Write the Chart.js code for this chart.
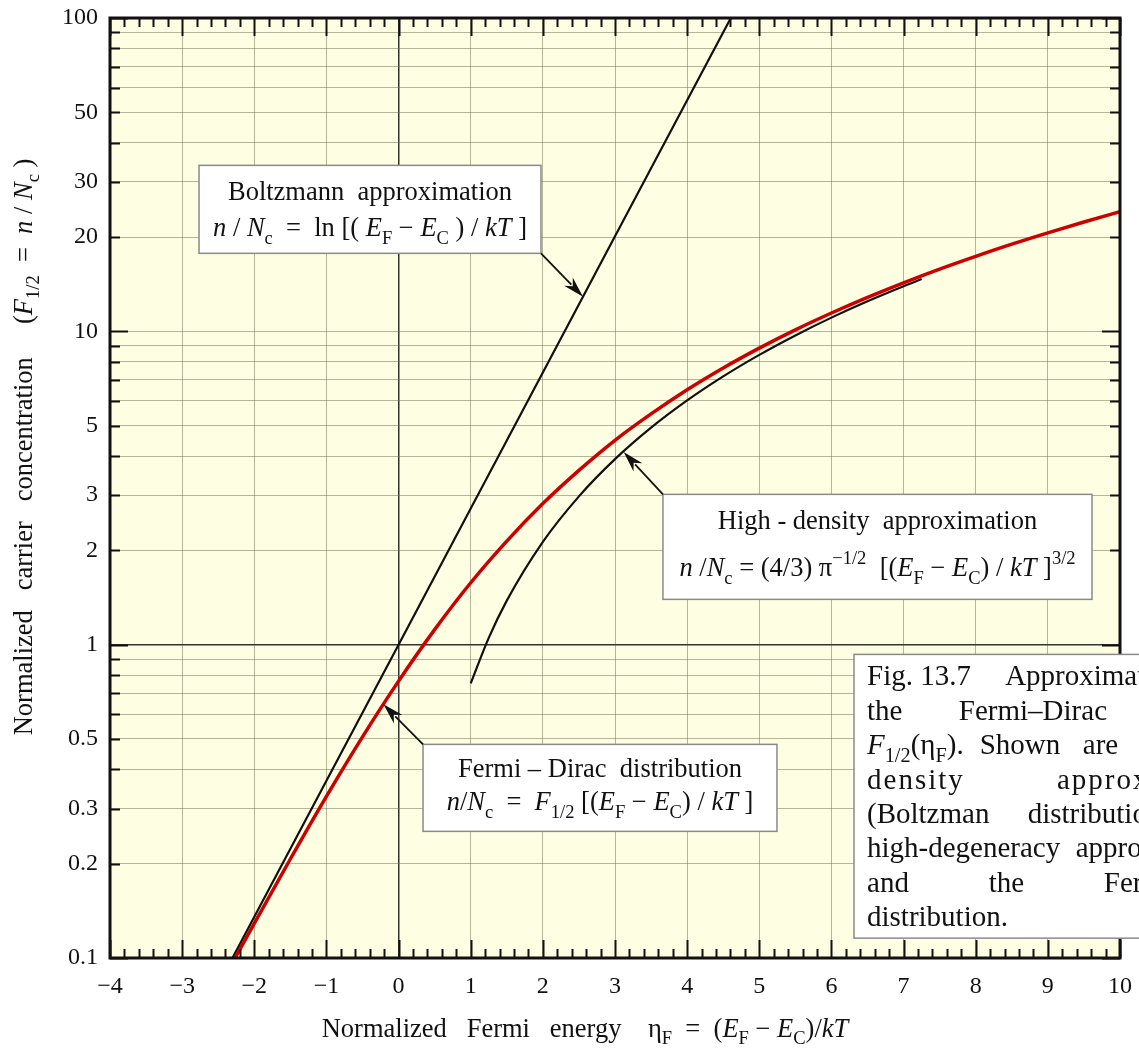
<!DOCTYPE html>
<html>
<head>
<meta charset="utf-8">
<script src="https://cdn.jsdelivr.net/npm/chart.js@4.4.1/dist/chart.umd.min.js"></script>
<style>
  body { margin: 0; background: #fff; }
  #wrap { width: 1139px; height: 1049px; position: relative; }
</style>
</head>
<body>
<div id="wrap"><canvas id="myChart"></canvas></div>
<script>
// values
const etaBoltz = [-2.4, -1, 0, 1, 2, 3, 4, 4.7];
const nBoltz = [0.0907, 0.368, 1, 2.72, 7.39, 20.1, 54.6, 109.9];

const etaFD = [-2.4, -2, -1.5, -1, -0.5, 0, 0.5, 1, 1.5, 2, 2.5, 3, 3.5, 4, 4.5, 5, 5.5, 6, 6.5, 7, 7.5, 8, 8.5, 9, 9.5, 10];
const nFD = [0.0879, 0.129, 0.207, 0.328, 0.508, 0.765, 1.117, 1.576, 2.14, 2.82, 3.60, 4.49, 5.45, 6.51, 7.64, 8.84, 10.11, 11.44, 12.84, 14.29, 15.8, 17.35, 18.97, 20.62, 22.33, 24.09];

const etaHD = [1, 1.25, 1.5, 2, 2.5, 3, 3.5, 4, 4.5, 5, 5.5, 6, 6.5, 7, 7.25];
const nHD = [0.752, 1.051, 1.382, 2.128, 2.974, 3.909, 4.926, 6.018, 7.181, 8.411, 9.704, 11.06, 12.47, 13.93, 14.68];

const xTickVals = [-4, -3, -2, -1, 0, 1, 2, 3, 4, 5, 6, 7, 8, 9, 10];
const yTickVals = [0.1, 0.2, 0.3, 0.4, 0.5, 0.6, 0.7, 0.8, 0.9, 1, 2, 3, 4, 5, 6, 7, 8, 9, 10, 20, 30, 40, 50, 60, 70, 80, 90, 100];
const yLabelVals = [0.1, 0.2, 0.3, 0.5, 1, 2, 3, 5, 10, 20, 30, 50, 100];

const FAM = '"Liberation Serif", "Times New Roman", serif';

function pts(xs, ys) {
    return xs.map((x, i) => ({ x: x, y: ys[i] }));
}

// rich text: parts are [text, kind] with kind = "i", "sub", "sup" or nothing
function layoutRich(ctx, parts, size) {
    let segs = parts.map((p) => {
        let kind = p[1];
        let small = kind == "sub" || kind == "sup";
        let fs = small ? size * 0.7 : size;
        let font = (kind == "i" ? "italic " : "") + fs + "px " + FAM;
        ctx.font = font;
        let dy = kind == "sub" ? size * 0.28 : kind == "sup" ? -size * 0.45 : 0;
        return { t: p[0], font: font, w: ctx.measureText(p[0]).width, dy: dy };
    });
    let total = segs.reduce((a, s) => a + s.w, 0);
    return { segs: segs, w: total };
}

function drawRich(ctx, parts, x, y, size, align) {
    let lay = layoutRich(ctx, parts, size);
    let cx = align == "center" ? x - lay.w / 2 : x;
    ctx.textAlign = "left";
    ctx.textBaseline = "alphabetic";
    lay.segs.forEach((s) => {
        ctx.font = s.font;
        ctx.fillText(s.t, cx, y + s.dy);
        cx += s.w;
    });
}

function drawJustified(ctx, text, x, y, width, justify) {
    let words = text.split(" ");
    if (!justify || words.length < 2) {
        ctx.fillText(text, x, y);
        return;
    }
    let ws = words.map((w) => ctx.measureText(w).width);
    let sum = ws.reduce((a, b) => a + b, 0);
    let gap = (width - sum) / (words.length - 1);
    let cx = x;
    words.forEach((w, i) => {
        ctx.fillText(w, cx, y);
        cx += ws[i] + gap;
    });
}

function arrow(ctx, x1, y1, x2, y2) {
    // line from (x1,y1) to tip (x2,y2)
    let ang = Math.atan2(y2 - y1, x2 - x1);
    let len = 21, half = 6;
    let c = Math.cos(ang), s = Math.sin(ang);
    ctx.strokeStyle = "#111";
    ctx.lineWidth = 1.8;
    ctx.beginPath();
    ctx.moveTo(x1, y1);
    ctx.lineTo(x2 - c * len * 0.8, y2 - s * len * 0.8);
    ctx.stroke();
    ctx.fillStyle = "#111";
    ctx.beginPath();
    ctx.moveTo(x2, y2);
    ctx.lineTo(x2 - c * len - s * half, y2 - s * len + c * half);
    ctx.lineTo(x2 - c * len * 0.7, y2 - s * len * 0.7);
    ctx.lineTo(x2 - c * len + s * half, y2 - s * len - c * half);
    ctx.closePath();
    ctx.fill();
}

function box(ctx, x1, y1, x2, y2) {
    ctx.fillStyle = "#fff";
    ctx.fillRect(x1, y1, x2 - x1, y2 - y1);
    ctx.strokeStyle = "#8a8a8a";
    ctx.lineWidth = 1.5;
    ctx.strokeRect(x1, y1, x2 - x1, y2 - y1);
}

const decor = {
    id: "decor",
    beforeDraw(chart) {
        let ctx = chart.ctx, a = chart.chartArea;
        ctx.save();
        ctx.fillStyle = "#fff";
        ctx.fillRect(0, 0, chart.width, chart.height);
        ctx.fillStyle = "#fefee3";
        ctx.fillRect(a.left, a.top, a.right - a.left, a.bottom - a.top);
        ctx.restore();
    },
    afterDraw(chart) {
        let ctx = chart.ctx, a = chart.chartArea;
        let xs = chart.scales.x, ys = chart.scales.y;
        let X = (v) => xs.getPixelForValue(v);
        let Y = (v) => ys.getPixelForValue(v);
        ctx.save();

        // inward ticks
        ctx.strokeStyle = "#111";
        ctx.lineWidth = 2;
        ctx.beginPath();
        for (let k = 0; k <= 70; k++) {
            let v = -4 + k * 0.2;
            let px = Math.round(X(v)) + 0.5;
            let L = k % 5 == 0 ? 18 : 9;
            ctx.moveTo(px, a.bottom);
            ctx.lineTo(px, a.bottom - L);
            ctx.moveTo(px, a.top);
            ctx.lineTo(px, a.top + L);
        }
        yTickVals.forEach((v) => {
            let py = Math.round(Y(v)) + 0.5;
            let dec = Math.abs(Math.log10(v) - Math.round(Math.log10(v))) < 1e-6;
            let L = dec ? 18 : 10;
            ctx.moveTo(a.left, py);
            ctx.lineTo(a.left + L, py);
            ctx.moveTo(a.right, py);
            ctx.lineTo(a.right - L, py);
        });
        ctx.stroke();

        // frame
        ctx.lineWidth = 3;
        ctx.strokeStyle = "#111";
        ctx.strokeRect(a.left, a.top, a.right - a.left, a.bottom - a.top);

        const NS = 26.5;

        // Boltzmann note
        box(ctx, X(-2.766), Y(33.86), X(1.974), Y(17.74));
        ctx.fillStyle = "#111";
        let bcx = (X(-2.766) + X(1.974)) / 2;
        drawRich(ctx, [["Boltzmann  approximation"]], bcx, Y(33.86) + 35, NS, "center");
        drawRich(ctx, [["n", "i"], [" / "], ["N", "i"], ["c", "sub"], ["  =  ln [( "], ["E", "i"], ["F", "sub"], [" \u2212 "], ["E", "i"], ["C", "sub"], [" ) / "], ["kT", "i"], [" ]"]], bcx, Y(33.86) + 71, NS, "center");
        arrow(ctx, X(1.974), Y(17.74), X(2.557), Y(12.9));

        // high-density note
        box(ctx, X(3.665), Y(3.018), X(9.612), Y(1.395));
        ctx.fillStyle = "#111";
        let hcx = (X(3.665) + X(9.612)) / 2;
        drawRich(ctx, [["High - density  approximation"]], hcx, Y(3.018) + 35, NS, "center");
        drawRich(ctx, [["n", "i"], [" /"], ["N", "i"], ["c", "sub"], [" = (4/3) \u03c0"], ["\u22121/2", "sup"], ["  [("], ["E", "i"], ["F", "sub"], [" \u2212 "], ["E", "i"], ["C", "sub"], [") / "], ["kT", "i"], [" ]"], ["3/2", "sup"]], hcx, Y(3.018) + 82, NS, "center");
        arrow(ctx, X(3.665), Y(3.018), X(3.12), Y(4.12));

        // Fermi-Dirac note
        box(ctx, X(0.339), Y(0.4806), X(5.245), Y(0.2536));
        ctx.fillStyle = "#111";
        let fcx = (X(0.339) + X(5.245)) / 2;
        drawRich(ctx, [["Fermi \u2013 Dirac  distribution"]], fcx, Y(0.4806) + 33, NS, "center");
        drawRich(ctx, [["n", "i"], ["/"], ["N", "i"], ["c", "sub"], ["  =  "], ["F", "i"], ["1/2", "sub"], [" [("], ["E", "i"], ["F", "sub"], [" \u2212 "], ["E", "i"], ["C", "sub"], [") / "], ["kT", "i"], [" ]"]], fcx, Y(0.4806) + 66, NS, "center");
        arrow(ctx, X(0.339), Y(0.4806), X(-0.21), Y(0.645));

        // figure caption (runs past the right edge)
        let cl = X(6.313), ct = Y(0.931), cb = Y(0.1157);
        box(ctx, cl, ct, chart.width + 40, cb);
        ctx.fillStyle = "#111";
        const CS = 29;
        ctx.textAlign = "left";
        ctx.textBaseline = "alphabetic";
        let capLines = [
            "Fig.\u00a013.7 Approximations of",
            "the Fermi\u2013Dirac integral",
            null,
            "density approximation",
            "(Boltzman distribution), the",
            "high-degeneracy approximation,",
            "and the Fermi\u2013Dirac",
            "distribution.",
        ];
        let capW = 385;
        capLines.forEach((t, i) => {
            let by = ct + 31 + i * 34.4;
            if (t === null) {
                let head = [["F", "i"], ["1/2", "sub"], ["(\u03b7"], ["F", "sub"], [")."]];
                let lay = layoutRich(ctx, head, CS);
                drawRich(ctx, head, cl + 13, by, CS, "left");
                ctx.font = CS + "px " + FAM;
                drawJustified(ctx, "Shown are the low-", cl + 13 + lay.w + 16, by, capW - lay.w - 16, true);
            } else {
                ctx.font = CS + "px " + FAM;
                ctx.letterSpacing = i == 3 ? "2px" : "0px";
                drawJustified(ctx, t, cl + 13, by, capW, i < capLines.length - 1);
                ctx.letterSpacing = "0px";
            }
        });

        // axis titles
        ctx.fillStyle = "#111";
        drawRich(ctx, [["Normalized   Fermi   energy    \u03b7"], ["F", "sub"], ["  =  ("], ["E", "i"], ["F", "sub"], [" \u2212 "], ["E", "i"], ["C", "sub"], [")/"], ["kT", "i"]], 585, 1037, NS, "center");
        ctx.save();
        ctx.translate(32, 447);
        ctx.rotate(-Math.PI / 2);
        drawRich(ctx, [["Normalized   carrier   concentration     ("], ["F", "i"], ["1/2", "sub"], ["  =  "], ["n", "i"], [" / "], ["N", "i"], ["c", "sub"], [" )"]], 0, 0, NS, "center");
        ctx.restore();

        ctx.restore();
    },
};

const gridColor = "rgba(120,120,90,0.55)";

new Chart(document.getElementById("myChart"), {
    type: "line",
    data: {
        datasets: [
            {
                label: "Fermi-Dirac distribution",
                data: pts(etaFD, nFD),
                borderColor: "#cc0000",
                borderWidth: 3.5,
                pointRadius: 0,
                cubicInterpolationMode: "monotone",
                order: 0,
            },
            {
                label: "Boltzmann approximation",
                data: pts(etaBoltz, nBoltz),
                borderColor: "#111",
                borderWidth: 2.2,
                pointRadius: 0,
                order: 1,
            },
            {
                label: "High-density approximation",
                data: pts(etaHD, nHD),
                borderColor: "#111",
                borderWidth: 2.2,
                pointRadius: 0,
                cubicInterpolationMode: "monotone",
                order: 2,
            },
        ],
    },
    options: {
        responsive: true,
        maintainAspectRatio: false,
        animation: false,
        layout: { padding: { top: 18, right: 19, left: 0, bottom: 0 } },
        plugins: { legend: { display: false }, tooltip: { enabled: false } },
        scales: {
            x: {
                type: "linear",
                min: -4,
                max: 10,
                afterBuildTicks: (scale) => {
                    scale.ticks = xTickVals.map((v) => ({ value: v }));
                },
                afterFit: (scale) => {
                    scale.height = 91;
                    scale.paddingLeft = 0;
                    scale.paddingRight = 0;
                },
                ticks: {
                    autoSkip: false,
                    maxRotation: 0,
                    padding: 14,
                    color: "#111",
                    font: { family: FAM, size: 24 },
                    callback: (v) => String(v).replace("-", "\u2212"),
                },
                grid: {
                    drawTicks: false,
                    color: (c) => (c.tick && c.tick.value === 0 ? "#333" : gridColor),
                    lineWidth: (c) => (c.tick && c.tick.value === 0 ? 1.5 : 1),
                },
                border: { display: false },
            },
            y: {
                type: "logarithmic",
                min: 0.1,
                max: 100,
                afterFit: (scale) => {
                    scale.width = 110;
                    scale.paddingTop = 0;
                    scale.paddingBottom = 0;
                },
                afterBuildTicks: (scale) => {
                    scale.ticks = yTickVals.map((v) => ({ value: v }));
                },
                ticks: {
                    autoSkip: false,
                    padding: 12,
                    color: "#111",
                    font: { family: FAM, size: 24 },
                    callback: (v) => (yLabelVals.includes(v) ? String(v) : ""),
                },
                grid: {
                    drawTicks: false,
                    color: (c) => (c.tick && c.tick.value === 1 ? "#333" : gridColor),
                    lineWidth: (c) => (c.tick && c.tick.value === 1 ? 1.5 : 1),
                },
                border: { display: false },
            },
        },
    },
    plugins: [decor],
});
</script>
</body>
</html>
